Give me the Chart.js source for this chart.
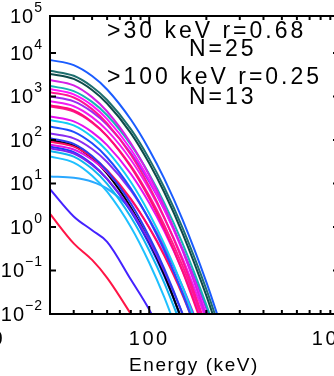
<!DOCTYPE html>
<html>
<head>
<meta charset="utf-8">
<script src="https://cdn.jsdelivr.net/npm/chart.js@4.4.1/dist/chart.umd.min.js"></script>
<style>
  html, body { margin: 0; padding: 0; background: #fff; overflow: hidden; }
  #wrap { width: 334px; height: 376px; overflow: hidden; position: relative; }
  canvas { position: absolute; left: 0; top: 0; }
</style>
</head>
<body>
<div id="wrap"><canvas id="chart" width="360" height="376"></canvas></div>
<script>
const energies = [30, 40, 50, 60, 80, 100, 120, 150, 200, 250]

// spectra, one array per event (values read at the energies above)
const spectra = [
    [6900, 5250, 2950, 1450, 295, 60, 12.9, 1.45, 0.054, 0.0029],
    [3890, 2990, 1680, 832, 177, 36.8, 8.1, 0.944, 0.0368, 0.00207],
    [3310, 2530, 1410, 690, 144, 29.2, 6.28, 0.708, 0.0264, 0.00142],
    [2400, 1800, 966, 451, 84.3, 15.5, 3.0, 0.292, 0.0087],
    [1740, 1330, 750, 371, 78.5, 16.4, 3.59, 0.417, 0.0162, 0.0009],
    [1480, 1120, 624, 302, 61.4, 12.2, 2.57, 0.281, 0.01, 0.0005],
    [1260, 946, 512, 240, 45.7, 8.5, 1.67, 0.167, 0.0051],
    [1000, 773, 443, 224, 49.8, 10.9, 2.51, 0.311, 0.0134, 0.0008],
    [631, 476, 259, 123, 23.9, 4.56, 0.918, 0.0944, 0.003],
    [776, 596, 335, 166, 35.2, 7.35, 1.61, 0.188, 0.0074],
    [589, 450, 251, 123, 25.5, 5.21, 1.12, 0.126, 0.0047],
    [347, 267, 152, 76, 16.6, 3.56, 0.804, 0.097, 0.004],
    [288, 217, 118, 56, 10.8, 2.05, 0.409, 0.0417, 0.0013],
    [204, 154, 83.8, 39.6, 7.64, 1.45, 0.289, 0.0294, 0.0009],
    [141, 109, 62.2, 31.3, 6.93, 1.5, 0.343, 0.0422, 0.0018],
    [110, 81.5, 42.9, 19.5, 3.46, 0.6, 0.111, 0.01, 0.00027],
    [91.2, 70.3, 40.2, 20.2, 4.46, 0.964, 0.22, 0.027, 0.0011],
    [77.6, 60.4, 35.2, 18.2, 4.25, 0.976, 0.235, 0.0313, 0.0015],
    [64.6, 48.8, 26.7, 12.7, 2.48, 0.475, 0.0964, 0.01, 0.00033],
    [100, 73.6, 37.9, 16.8, 2.81, 0.46, 0.08, 0.0067],
    [41.7, 30.3, 15.1, 6.47, 1.0, 0.151, 0.0243, 0.0018],
    [56.2, 41.6, 21.7, 9.8, 1.69, 0.288, 0.0518, 0.0045],
    [70.8, 52.7, 27.9, 12.7, 2.28, 0.398, 0.074, 0.0068],
    [14.5, 13.5, 11, 7.6, 2.5, 0.55, 0.1, 0.0055],
    [7.4, 1.75, 0.84, 0.457, 0.062, 0.0126, 0.0025],
    [2.0, 0.42, 0.175, 0.068, 0.01, 0.002]
]

const colors = [
    '#1a5cff', '#1e6e6e', '#0d4a4a', '#d41fe6', '#17b5b5', '#ff14ff',
    '#ff1493', '#9b2cf2', '#ff0d7a', '#f01cf0', '#ff1a8c', '#e610f0',
    '#12ccf5', '#1e4cff', '#8a2cf0', '#2a3cf0', '#ff1060', '#e414e4',
    '#7a22f2', '#000000', '#1ec0ff', '#10b4ee', '#1838ff', '#2aa8ff',
    '#4422ff', '#ff1445'
]

// axis ticks and labels
const xMin = 30
const xMax = 1000
const yMin = 0.01
const yMax = 7.08e4
const xMajorTicks = [100, 1000]
const xMinorTicks = [40, 50, 60, 70, 80, 90, 200, 300, 400, 500, 600, 700, 800, 900]
const yTickValues = [0.01, 0.1, 1, 10, 100, 1000, 10000]
const yTickExps = ['\u22122', '\u22121', '0', '1', '2', '3', '4']
const topExp = '5'
const xTitle = 'Energy (keV)'
const notes = ['>30 keV r=0.68', 'N=25', '>100 keV r=0.25', 'N=13']

const font = '"Liberation Sans", Arial, sans-serif'

function seg(ctx, x1, y1, x2, y2) {
    ctx.beginPath()
    ctx.moveTo(x1, y1)
    ctx.lineTo(x2, y2)
    ctx.stroke()
}

// box, inward ticks and all texts (IDL look)
const frame = {
    id: 'frame',
    afterDatasetsDraw(chart) {
        const { ctx, chartArea: a, scales: { x, y } } = chart
        ctx.save()
        ctx.strokeStyle = '#000'
        ctx.fillStyle = '#000'
        ctx.lineWidth = 2
        ctx.strokeRect(a.left, a.top, a.right - a.left, a.bottom - a.top)

        xMinorTicks.forEach(v => {
            const px = x.getPixelForValue(v)
            seg(ctx, px, a.bottom, px, a.bottom - 4)
            seg(ctx, px, a.top, px, a.top + 4)
        })
        xMajorTicks.forEach(v => {
            const px = x.getPixelForValue(v)
            seg(ctx, px, a.bottom, px, a.bottom - 8)
            seg(ctx, px, a.top, px, a.top + 8)
        })
        yTickValues.forEach(v => {
            const py = y.getPixelForValue(v)
            seg(ctx, a.left, py, a.left + 6, py)
            seg(ctx, a.right, py, a.right - 6, py)
        })

        // x tick labels
        ctx.font = '20px ' + font
        ctx.letterSpacing = '2.5px'
        ctx.textAlign = 'center'
        ctx.textBaseline = 'alphabetic'
        xMajorTicks.forEach(v => {
            ctx.fillText(String(v), x.getPixelForValue(v), 345)
        })
        // right end of the neighbour panel's label
        ctx.textAlign = 'right'
        ctx.fillText('1000', 5, 345)

        // y tick labels 10^n
        ctx.letterSpacing = '1px'
        ctx.textAlign = 'left'
        const labels = yTickValues.map((v, i) => [y.getPixelForValue(v), yTickExps[i]])
        labels.push([a.top, topExp])
        labels.forEach(([py, e]) => {
            ctx.font = '14px ' + font
            const ew = ctx.measureText(e).width
            ctx.font = '20px ' + font
            const bw = ctx.measureText('10').width
            const x0 = 43 - ew - bw
            ctx.fillText('10', x0, py + 7)
            ctx.font = '14px ' + font
            ctx.fillText(e, x0 + bw, py - 4)
        })

        // axis title
        ctx.font = '19px ' + font
        ctx.letterSpacing = '1.6px'
        ctx.textAlign = 'center'
        ctx.fillText(xTitle, 194, 371)

        // notes
        ctx.font = '23px ' + font
        ctx.letterSpacing = '3px'
        ctx.textAlign = 'left'
        ctx.fillText(notes[0], 107, 38)
        ctx.fillText(notes[1], 189, 56)
        ctx.fillText(notes[2], 107, 84)
        ctx.fillText(notes[3], 189, 104)
        ctx.restore()
    }
}

const datasets = spectra.map((vals, i) => ({
    data: vals.map((v, j) => ({ x: energies[j], y: v })),
    borderColor: colors[i],
    borderWidth: 2,
    pointRadius: 0,
    fill: false,
    cubicInterpolationMode: 'monotone'
}))

new Chart(document.getElementById('chart'), {
    type: 'line',
    data: { datasets: datasets },
    options: {
        responsive: false,
        animation: false,
        layout: { padding: { left: 50, top: 16, right: 21, bottom: 62 } },
        plugins: { legend: { display: false }, tooltip: { enabled: false } },
        scales: {
            x: { type: 'logarithmic', min: xMin, max: xMax, display: false },
            y: { type: 'logarithmic', min: yMin, max: yMax, display: false }
        }
    },
    plugins: [frame]
})
</script>
</body>
</html>
